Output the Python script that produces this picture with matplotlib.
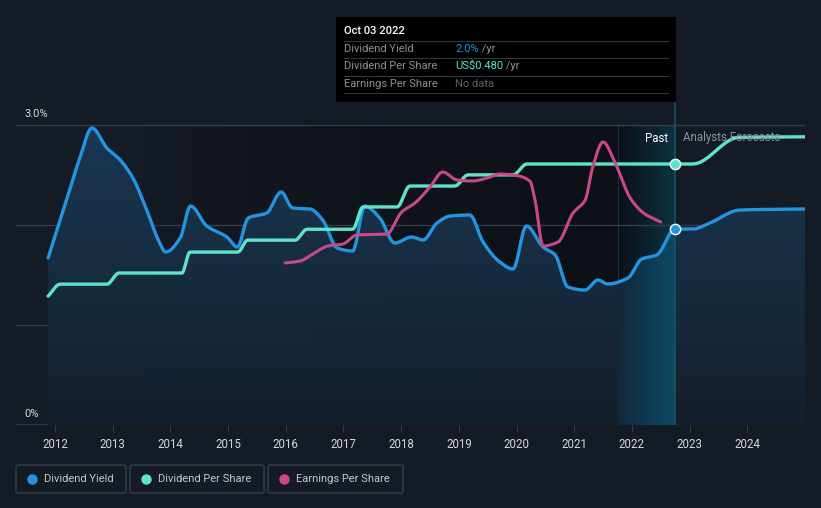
import numpy as np
import matplotlib
matplotlib.use("Agg")
import matplotlib.pyplot as plt
from matplotlib.patches import Rectangle, FancyBboxPatch, Polygon
from matplotlib.colors import LinearSegmentedColormap, to_rgb

plt.rcParams['font.family'] = ['Roboto', 'DejaVu Sans']

# ---------------- data ----------------
yield_years = [2011.88, 2012.2, 2012.43, 2012.64, 2012.9, 2013.13, 2013.35, 2013.59, 2013.79, 2013.92,
               2014.17, 2014.35, 2014.63, 2014.98, 2015.16, 2015.35, 2015.67, 2015.92, 2016.12, 2016.42,
               2016.64, 2016.89, 2017.16, 2017.37, 2017.63, 2017.89, 2018.18, 2018.38, 2018.62, 2018.85,
               2019.19, 2019.42, 2019.71, 2019.94, 2020.17, 2020.46, 2020.67, 2020.89, 2021.19, 2021.41,
               2021.58, 2021.93, 2022.17, 2022.43, 2022.75, 2023.06, 2023.35, 2023.87, 2025.0]
yield_pct = [1.67, 2.25, 2.67, 2.97, 2.77, 2.65, 2.47, 2.15, 1.85, 1.73,
             1.87, 2.19, 1.99, 1.88, 1.78, 2.07, 2.12, 2.33, 2.17, 2.16,
             2.05, 1.77, 1.74, 2.19, 2.07, 1.82, 1.88, 1.85, 2.02, 2.09,
             2.10, 1.83, 1.63, 1.56, 1.99, 1.78, 1.70, 1.38, 1.35, 1.45,
             1.41, 1.47, 1.66, 1.70, 1.96, 1.96, 2.02, 2.15, 2.16]

dps_years = [2011.88, 2012.09, 2012.9, 2013.11, 2014.2, 2014.34, 2015.17, 2015.34, 2016.16, 2016.37,
             2017.16, 2017.34, 2017.93, 2018.15, 2018.93, 2019.16, 2019.94, 2020.18, 2023.06,
             2023.85, 2025.0]
dps_usd = [0.237, 0.259, 0.259, 0.2795, 0.2795, 0.318, 0.318, 0.340, 0.340, 0.360,
           0.360, 0.401, 0.401, 0.4395, 0.4395, 0.460, 0.460, 0.480, 0.480,
           0.529, 0.530]

eps_years = [2015.99, 2016.25, 2016.47, 2016.73, 2016.99, 2017.23, 2017.75, 2018.01, 2018.24, 2018.5,
             2018.72, 2018.97, 2019.24, 2019.49, 2019.71, 2019.94, 2020.23, 2020.32, 2020.46, 2020.72,
             2020.98, 2021.19, 2021.32, 2021.5, 2021.71, 2021.97, 2022.2, 2022.5]
eps_usd = [1.62, 1.64, 1.71, 1.79, 1.81, 1.90, 1.91, 2.13, 2.22, 2.38,
           2.53, 2.45, 2.44, 2.47, 2.51, 2.50, 2.44, 2.25, 1.79, 1.83,
           2.12, 2.25, 2.58, 2.83, 2.62, 2.27, 2.12, 2.03]

tick_years = list(range(2012, 2025))
now_year = 2022.75
now_yield = 1.96
now_dps = 0.480
highlight_start = 2021.75


def monotone(x, y, n=12):
    """Monotone cubic (PCHIP) rendering through the given points, like a d3 curveMonotoneX."""
    x = np.asarray(x, float)
    y = np.asarray(y, float)
    h = np.diff(x)
    d = np.diff(y) / h
    m = np.zeros_like(y)
    for i in range(1, len(y) - 1):
        if d[i - 1] * d[i] > 0:
            w1 = 2 * h[i] + h[i - 1]
            w2 = h[i] + 2 * h[i - 1]
            m[i] = (w1 + w2) / (w1 / d[i - 1] + w2 / d[i])
    m[0] = d[0]
    m[-1] = d[-1]
    xs, ys = [], []
    for i in range(len(h)):
        t = np.linspace(0, 1, n, endpoint=False)
        h00 = 2 * t**3 - 3 * t**2 + 1
        h10 = t**3 - 2 * t**2 + t
        h01 = -2 * t**3 + 3 * t**2
        h11 = t**3 - t**2
        xs.append(x[i] + t * h[i])
        ys.append(h00 * y[i] + h10 * h[i] * m[i] + h01 * y[i + 1] + h11 * h[i] * m[i + 1])
    xs.append([x[-1]])
    ys.append([y[-1]])
    return np.concatenate(xs), np.concatenate(ys)


# ---------------- style ----------------
BG = '#151b25'
DARK = '#0d1016'
BLUE = '#2394df'
TEAL = '#5fe3cb'
PINK = '#c8488a'
GRID = '#363c47'
TXT = '#d5d8dc'
GRAY = '#8c929a'

W, H = 821, 508
fig = plt.figure(figsize=(W / 100, H / 100), dpi=100, facecolor=BG)

def fx(x):
    return x / W

def fy(y):
    return 1 - y / H

ax_left, ax_right, ax_top, ax_bot = 16, 805, 100, 425
ax = fig.add_axes([fx(ax_left), fy(ax_bot), fx(ax_right) - fx(ax_left), fy(ax_top) - fy(ax_bot)])
ax.set_facecolor(BG)
xmin, xmax = 2011.324, 2025.0
ymax = 3.25
top = 3.0
ax.set_xlim(xmin, xmax)
ax.set_ylim(0, ymax)
for s in ax.spines.values():
    s.set_visible(False)
ax.set_yticks([])
ax.set_xticks(tick_years)
ax.set_xticklabels([str(t) for t in tick_years], color=TXT, fontsize=8.3)
ax.tick_params(axis='x', length=5, color=GRID, pad=4)

# dark past region with horizontal gradient
grad = np.linspace(0, 1, 256).reshape(1, -1) ** 0.6
dark_cmap = LinearSegmentedColormap.from_list('d', [to_rgb(BG), to_rgb(DARK)])
ax.imshow(grad, extent=[2013.5, highlight_start, 0, top], aspect='auto', cmap=dark_cmap,
          zorder=0, interpolation='bilinear')
ax.add_patch(Rectangle((xmin, 0), 2013.5 - xmin, top, color=BG, zorder=0, lw=0))

# highlight (last year) teal gradient
hl_cmap = LinearSegmentedColormap.from_list('h', [to_rgb(DARK), '#0b3344'])
ax.imshow(np.linspace(0, 1, 256).reshape(1, -1), extent=[highlight_start, now_year, 0, top],
          aspect='auto', cmap=hl_cmap, zorder=0.1, interpolation='bilinear')
ax.plot([highlight_start, highlight_start], [0, top], color='#0e3a48', lw=0.8, zorder=0.2)

# grid lines
for g in [1.0, 2.0, 3.0]:
    ax.axhline(g, color=GRID, lw=1, zorder=1)
ax.axhline(0, color=GRID, lw=1.2, zorder=1)

# area under yield with vertical gradient
xs, ys = monotone(yield_years, yield_pct)
poly = Polygon(np.column_stack([np.r_[xs, xs[-1], xs[0]], np.r_[ys, 0, 0]]), closed=True,
               facecolor='none', edgecolor='none')
ax.add_patch(poly)
vg = np.linspace(1, 0, 256).reshape(-1, 1)
area_cmap = LinearSegmentedColormap.from_list('a', ['#15202e', '#1a3a56'])
im = ax.imshow(vg, extent=[xs[0], xs[-1], 0, 3.0], aspect='auto', cmap=area_cmap, zorder=1.5,
               interpolation='bilinear', alpha=0.95)
im.set_clip_path(poly)
poly2 = Polygon(np.column_stack([np.r_[xs, xs[-1], xs[0]], np.r_[ys, 0, 0]]), closed=True,
                facecolor='none', edgecolor='none')
ax.add_patch(poly2)
hl2 = LinearSegmentedColormap.from_list('h2', ['#14283a', '#0b4a66'])
im2 = ax.imshow(np.linspace(0, 1, 256).reshape(1, -1), extent=[highlight_start, now_year, 0, 3.0],
                aspect='auto', cmap=hl2, zorder=1.6, interpolation='bilinear')
im2.set_clip_path(poly2)

# now line
ax.axvline(now_year, color='#1d4f5e', lw=1.2, zorder=2)

# lines
ax.plot(xs, ys, color=BLUE, lw=2.4, zorder=4, solid_joinstyle='round', solid_capstyle='round')

ax_dps = ax.twinx()
ax_dps.set_ylim(0, ymax * now_dps / 2.61)
ax_dps.set_xlim(xmin, xmax)
ax_dps.axis('off')
dx, dy = monotone(dps_years, dps_usd)
ax_dps.plot(dx, dy, color=TEAL, lw=2.4, zorder=3, solid_joinstyle='round', solid_capstyle='round')
ax_dps.scatter([now_year], [now_dps], s=55, color=TEAL, edgecolor='white', lw=1.0, zorder=6)

ax_eps = ax.twinx()
ax_eps.set_ylim(0, ymax)
ax_eps.set_xlim(xmin, xmax)
ax_eps.axis('off')
ex, ey = monotone(eps_years, eps_usd)
ax_eps.plot(ex, ey, color=PINK, lw=2.2, zorder=3, solid_joinstyle='round', solid_capstyle='round')

ax.scatter([now_year], [now_yield], s=55, color=BLUE, edgecolor='white', lw=1.0, zorder=6)

# axis % labels
fig.text(fx(24), fy(114), '3.0%', color=TXT, fontsize=8, va='center', ha='left')
fig.text(fx(24), fy(414), '0%', color=TXT, fontsize=8, va='center', ha='left')

# past / forecast labels
fig.text(fx(668), fy(138), 'Past', color='white', fontsize=8.3, va='center', ha='right')
fig.text(fx(683), fy(138), 'Analysts Forecasts', color=GRAY, fontsize=8.3, va='center', ha='left')

# tooltip
fig.add_artist(Rectangle((fx(336), fy(102)), fx(676) - fx(336), fy(17) - fy(102),
                         transform=fig.transFigure, facecolor='black', edgecolor='none', zorder=10))
fig.text(fx(344), fy(31), 'Oct 03 2022', color='white', fontsize=8, va='center', ha='left',
         fontweight='medium', zorder=11)
for ly in [41, 58, 76, 93]:
    fig.add_artist(plt.Line2D([fx(344), fx(668)], [fy(ly), fy(ly)], transform=fig.transFigure,
                              color='#33363b', lw=0.8, zorder=11))
rows = [('Dividend Yield', '2.0%', BLUE, ' /yr', 49),
        ('Dividend Per Share', 'US$0.480', TEAL, ' /yr', 66),
        ('Earnings Per Share', 'No data', '#5d6166', '', 84)]
for label, val, col, unit, ry in rows:
    fig.text(fx(344), fy(ry), label, color=GRAY, fontsize=8, va='center', ha='left', zorder=11)
    t = fig.text(fx(455), fy(ry), val, color=col, fontsize=8, va='center', ha='left', zorder=11)
    if unit:
        fig.canvas.draw()
        bb = t.get_window_extent()
        fig.text(bb.x1 / W, fy(ry), unit, color=GRAY, fontsize=8, va='center', ha='left', zorder=11)

# legend boxes
legend = [('Dividend Yield', BLUE, 16, 126), ('Dividend Per Share', TEAL, 130, 264),
          ('Earnings Per Share', PINK, 268, 403)]
for name, col, x0, x1 in legend:
    fig.add_artist(FancyBboxPatch((fx(x0), fy(493)), fx(x1) - fx(x0), fy(465) - fy(493),
                                  boxstyle='round,pad=0,rounding_size=0.003', transform=fig.transFigure,
                                  facecolor=BG, edgecolor='#3a3f48', lw=1))
    fig.add_artist(plt.Line2D([fx(x0 + 16)], [fy(479)], marker='o', markersize=6.5, color=col,
                              transform=fig.transFigure))
    fig.text(fx(x0 + 28), fy(479), name, color='#c4c8cd', fontsize=8, va='center', ha='left')

fig.savefig('out.png', dpi=100, facecolor=BG)
